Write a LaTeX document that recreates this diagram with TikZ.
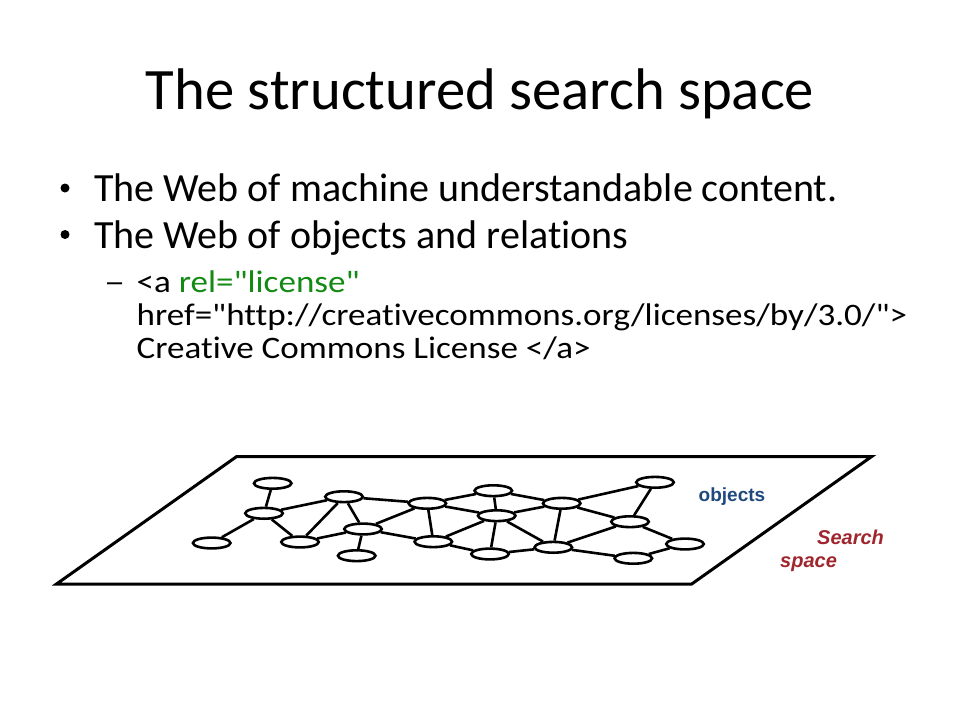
\documentclass[tikz,border=0pt]{standalone}
\usepackage{fontspec}
\setmainfont{Carlito}[Ligatures={TeXOff,CommonOff}]
\newfontfamily\arialfont{Liberation Sans}
\usetikzlibrary{shapes.geometric}
\definecolor{objblue}{HTML}{1F497D}
\definecolor{searchred}{HTML}{A0262E}
\definecolor{relgreen}{HTML}{138A13}
\tikzset{
  obj/.style={ellipse, draw, line width=2.6pt, minimum width=37.5pt, minimum height=10.8pt, inner sep=0pt},
  edge/.style={line width=2.6pt},
  plane/.style={line width=3pt, line join=miter},
  titletxt/.style={anchor=base, inner sep=0pt, font=\fontsize{58.7}{60}\selectfont},
  bullettxt/.style={anchor=base west, inner sep=0pt, font=\fontsize{40}{46}\selectfont},
  subtxt/.style={anchor=base west, inner sep=0pt, font=\fontsize{31.3}{33}\selectfont},
  bulletdot/.style={circle, fill=black, inner sep=0pt, minimum size=9pt},
  lab/.style={anchor=base west, inner sep=0pt},
}
\newcommand{\subx}[1]{\scalebox{1.12}[1]{#1}}
\begin{document}
\begin{tikzpicture}[x=1pt, y=-1pt]
\useasboundingbox[fill=white] (0,0) rectangle (960,720);

% title
\node[titletxt] (title) at (480,109) {The structured search space};

% bullets
\node[bulletdot] (d1) at (65,188) {};
\node[bulletdot] (d2) at (65,234.5) {};
\node[bullettxt] (b1) at (94,201.7) {The Web of machine understandable content.};
\node[bullettxt] (b2) at (94,248.3) {The Web of objects and relations};
\node[subtxt] (dash) at (104,292.5) {\scalebox{1.35}[1]{–}};
\node[subtxt] (s1) at (136.5,292.5) {\subx{<a \textcolor{relgreen}{rel="license"}}};
\node[subtxt] (s2) at (136.5,325.3) {\subx{href="http://creativecommons.org/licenses/by/3.0/">}};
\node[subtxt] (s3) at (136.5,358) {\subx{Creative Commons License </a>}};

% search space plane
\coordinate (p1) at (236.7,456.5);
\coordinate (p2) at (871.7,456.5);
\coordinate (p3) at (691.7,584);
\coordinate (p4) at (56.5,584);
\draw[plane] (p1) -- (p2) -- (p3) -- (p4) -- cycle;

% objects
\node[obj] (A) at (272.7,483.3) {};
\node[obj] (B) at (264,513.3) {};
\node[obj] (C) at (211.7,543) {};
\node[obj] (D) at (300,542) {};
\node[obj] (E) at (344,496.7) {};
\node[obj] (F) at (363,529) {};
\node[obj] (G) at (356.7,555.7) {};
\node[obj] (H) at (427.3,503.3) {};
\node[obj] (I) at (433.3,541.7) {};
\node[obj] (J) at (493.3,490.7) {};
\node[obj] (K) at (496.7,515.7) {};
\node[obj] (L) at (561.7,503.3) {};
\node[obj] (M) at (490,554) {};
\node[obj] (N) at (553.3,547.3) {};
\node[obj] (O) at (655,482.3) {};
\node[obj] (P) at (630,521.7) {};
\node[obj] (Q) at (633.3,558.3) {};
\node[obj] (R) at (685,544) {};

% relations
\draw[edge] (A) -- (B);
\draw[edge] (B) -- (C);
\draw[edge] (B) -- (E);
\draw[edge] (B) -- (D);
\draw[edge] (E) -- (D);
\draw[edge] (D) -- (F);
\draw[edge] (E) -- (H);
\draw[edge] (E) -- (F);
\draw[edge] (F) -- (H);
\draw[edge] (F) -- (G);
\draw[edge] (F) -- (I);
\draw[edge] (H) -- (I);
\draw[edge] (H) -- (J);
\draw[edge] (H) -- (K);
\draw[edge] (I) -- (K);
\draw[edge] (I) -- (M);
\draw[edge] (J) -- (K);
\draw[edge] (J) -- (L);
\draw[edge] (K) -- (M);
\draw[edge] (K) -- (L);
\draw[edge] (K) -- (N);
\draw[edge] (L) -- (N);
\draw[edge] (L) -- (O);
\draw[edge] (L) -- (P);
\draw[edge] (O) -- (P);
\draw[edge] (M) -- (N);
\draw[edge] (N) -- (P);
\draw[edge] (N) -- (Q);
\draw[edge] (P) -- (R);
\draw[edge] (Q) -- (R);

% labels
\node[lab, text=objblue, font=\arialfont\bfseries\fontsize{19}{20}\selectfont] (lobj) at (698.5,501.7) {objects};
\node[lab, text=searchred, font=\arialfont\bfseries\itshape\fontsize{20}{21}\selectfont] (lsearch) at (817,544) {Search};
\node[lab, text=searchred, font=\arialfont\bfseries\itshape\fontsize{20}{21}\selectfont] (lspace) at (780,567.5) {space};
\end{tikzpicture}
\end{document}
